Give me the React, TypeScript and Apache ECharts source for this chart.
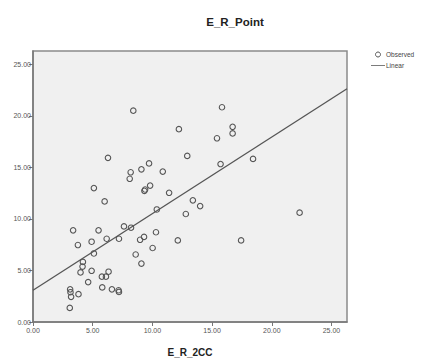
import React, { useEffect, useRef } from "react";
import * as echarts from "echarts";

const observedX = [8.40, 12.22, 6.28, 12.92, 9.72, 9.08, 8.18, 10.87, 8.10, 5.10, 9.39, 9.33, 9.81, 11.40, 6.00, 13.39, 15.83, 16.72, 16.72, 15.41, 18.43, 15.71, 14.00, 12.80, 22.33, 10.37, 10.30, 12.13, 17.43, 10.02, 3.36, 5.49, 7.62, 8.21, 3.76, 4.91, 6.17, 7.20, 9.30, 8.97, 5.10, 8.60, 4.18, 9.08, 4.15, 4.91, 3.98, 6.33, 5.77, 6.11, 4.62, 5.80, 6.61, 7.17, 7.20, 3.11, 3.14, 3.19, 3.81, 3.08];
const observedY = [20.51, 18.71, 15.93, 16.12, 15.39, 14.82, 14.53, 14.60, 13.90, 13.00, 12.86, 12.73, 13.24, 12.54, 11.70, 11.81, 20.84, 18.94, 18.30, 17.83, 15.83, 15.33, 11.25, 10.48, 10.61, 10.92, 8.71, 7.92, 7.92, 7.18, 8.90, 8.90, 9.28, 9.15, 7.47, 7.79, 8.08, 8.08, 8.26, 7.98, 6.65, 6.55, 5.83, 5.67, 5.38, 4.97, 4.81, 4.88, 4.40, 4.40, 3.87, 3.36, 3.17, 3.08, 2.92, 3.17, 2.89, 2.44, 2.70, 1.37];
const linearX = [0, 26.3];
const linearY = [3.08, 22.64];
const axisMax = 26.3;

export default function App() {
  const ref = useRef<HTMLDivElement>(null);
  useEffect(() => {
    if (!ref.current) return;
    const chart = echarts.init(ref.current, null, { renderer: "svg" });
    const tickLabel = {
      fontFamily: "Liberation Sans",
      fontSize: 7,
      color: "#555555",
      formatter: (v: number) => v.toFixed(2),
    };
    chart.setOption({
      animation: false,
      backgroundColor: "#fff",
      title: {
        text: "E_R_Point",
        left: 230,
        top: 11,
        textAlign: "center",
        textStyle: { fontFamily: "Liberation Sans", fontSize: 11.5, fontWeight: "bold", color: "#222" },
      },
      legend: {
        orient: "vertical",
        left: 371,
        top: 51,
        itemWidth: 14,
        itemHeight: 5,
        itemGap: 4,
        padding: 0,
        textStyle: { fontFamily: "Liberation Sans", fontSize: 6.5, color: "#444", padding: [0, 0, 0, -4] },
        data: [
          { name: "Observed", icon: "circle", itemStyle: { color: "#fff", borderColor: "#555", borderWidth: 1 } },
          { name: "Linear", icon: "path://M0,0 L20,0 L20,1 L0,1 Z", itemStyle: { color: "#444" } },
        ],
      },
      grid: {
        left: 33,
        top: 51,
        right: 74,
        bottom: 34,
        show: true,
        backgroundColor: "#f0f0f0",
        borderColor: "#8a8a8a",
        borderWidth: 1.5,
      },
      xAxis: {
        type: "value",
        min: 0,
        max: axisMax,
        interval: 5,
        name: "E_R_2CC",
        nameLocation: "middle",
        nameGap: 25,
        nameTextStyle: { fontFamily: "Liberation Sans", fontSize: 10, fontWeight: "bold", color: "#222" },
        axisLine: { show: true, lineStyle: { color: "#777", width: 1.5 } },
        axisTick: { show: true, length: 4, lineStyle: { color: "#777" } },
        axisLabel: { ...tickLabel, margin: 5, showMaxLabel: false },
        splitLine: { show: false },
      },
      yAxis: {
        type: "value",
        min: 0,
        max: axisMax,
        interval: 5,
        axisLine: { show: true, lineStyle: { color: "#777", width: 1.5 } },
        axisTick: { show: true, length: 4, lineStyle: { color: "#777" } },
        axisLabel: { ...tickLabel, margin: 2, showMaxLabel: false },
        splitLine: { show: false },
      },
      series: [
        {
          name: "Observed",
          type: "scatter",
          symbol: "circle",
          symbolSize: 5.5,
          itemStyle: { color: "rgba(0,0,0,0)", borderColor: "#555", borderWidth: 1.1, opacity: 1 },
          data: observedX.map((x, i) => [x, observedY[i]]),
        },
        {
          name: "Linear",
          type: "line",
          symbol: "none",
          lineStyle: { color: "#555", width: 1.3 },
          itemStyle: { color: "#555" },
          data: linearX.map((x, i) => [x, linearY[i]]),
        },
      ],
    });
    return () => chart.dispose();
  }, []);
  return <div ref={ref} style={{ width: 421, height: 362, position: "absolute", left: 0, top: 0 }} />;
}
